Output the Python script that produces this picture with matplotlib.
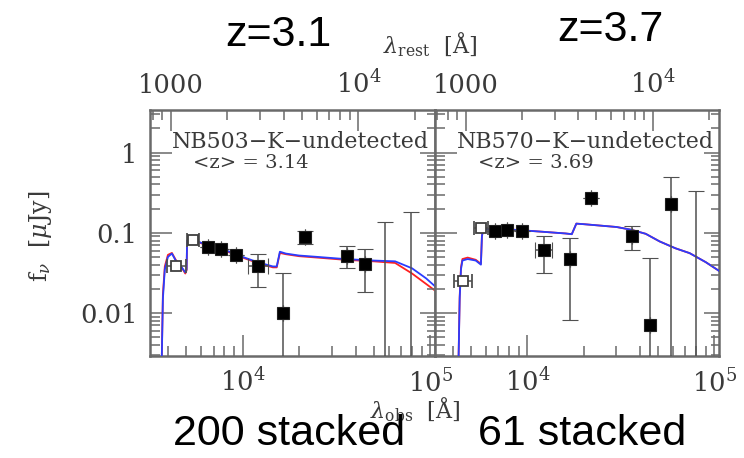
import numpy as np
import matplotlib
matplotlib.use("Agg")
import matplotlib.pyplot as plt
from matplotlib.ticker import FixedLocator, FixedFormatter, NullFormatter

# ---------------- data ----------------
z_left = 3.14
z_right = 3.69

# left panel (NB503, <z>=3.14): open squares (broad/narrow band with x-range)
L_open_wl = [4420, 5470]
L_open_f = [0.038, 0.082]
L_open_wlo = [3975, 5080]
L_open_whi = [5010, 5890]

# left panel filled squares
L_wl = [6520, 7690, 9180, 12070, 16440, 21470, 35900, 44900, 57400, 78900]
L_f = [0.0655, 0.063, 0.053, 0.038, 0.0101, 0.0874, 0.0516, 0.041, 0.001, 0.001]
L_flo = [0.0655, 0.063, 0.053, 0.0213, 0.001, 0.072, 0.0362, 0.0181, 0.001, 0.001]
L_fhi = [0.0655, 0.063, 0.053, 0.0546, 0.0319, 0.106, 0.0688, 0.063, 0.136, 0.18]
L_wlo = [6520, 7690, 9180, 10640, 16440, 21470, 35900, 44900, 57400, 78900]
L_whi = [6520, 7690, 9180, 13600, 16440, 21470, 35900, 44900, 57400, 78900]

# left panel model SEDs
L_mod_wl = [3700, 3760, 3850, 4000, 4200, 4400, 4700, 4950, 5030, 5060, 5300, 6000,
            7000, 8500, 10000, 12000, 14500, 15200, 15800, 17000, 20000, 25000,
            35000, 50000, 65000, 80000, 95000, 106000]
L_blue = [0.002, 0.015, 0.035, 0.05, 0.055, 0.045, 0.038, 0.032, 0.035, 0.08, 0.085, 0.075,
          0.068, 0.058, 0.05, 0.043, 0.038, 0.038, 0.058, 0.055, 0.052, 0.05,
          0.047, 0.045, 0.044, 0.036, 0.027, 0.0215]
L_red = [0.002, 0.017, 0.038, 0.053, 0.056, 0.046, 0.038, 0.031, 0.034, 0.079, 0.084, 0.074,
         0.067, 0.057, 0.049, 0.042, 0.037, 0.037, 0.056, 0.054, 0.051, 0.049,
         0.046, 0.044, 0.042, 0.031, 0.023, 0.019]

# right panel (NB570, <z>=3.69)
R_open_wl = [4505, 5636]
R_open_f = [0.0251, 0.1146]
R_open_wlo = [4064, 5180]
R_open_whi = [5090, 6135]

R_wl = [6690, 7820, 9400, 12250, 16980, 21880, 36150, 45200, 58500, 79400]
R_f = [0.105, 0.109, 0.105, 0.0613, 0.0473, 0.272, 0.09, 0.00708, 0.23, 0.001]
R_flo = [0.105, 0.109, 0.105, 0.0313, 0.00818, 0.272, 0.0601, 0.001, 0.001, 0.001]
R_fhi = [0.105, 0.109, 0.105, 0.0899, 0.0859, 0.272, 0.122, 0.0482, 0.49, 0.335]
R_wlo = [6690, 7820, 9400, 11030, 16980, 21880, 36150, 45200, 58500, 79400]
R_whi = [6690, 7820, 9400, 13550, 16980, 21880, 36150, 45200, 58500, 79400]

R_mod_wl = [4280, 4350, 4420, 4500, 4800, 5300, 5650, 5720, 5800, 7000, 9000, 12000,
            16000, 17300, 18300, 20000, 30000, 36000, 43000, 51000, 62000, 73800,
            90000, 107000]
R_blue = [0.002, 0.015, 0.035, 0.045, 0.047, 0.045, 0.04, 0.09, 0.11, 0.112, 0.108, 0.103,
          0.098, 0.096, 0.13, 0.128, 0.118, 0.109, 0.097, 0.078, 0.064, 0.0557,
          0.043, 0.033]
R_red = [0.002, 0.016, 0.037, 0.047, 0.049, 0.046, 0.041, 0.09, 0.11, 0.112, 0.108, 0.103,
         0.098, 0.096, 0.13, 0.128, 0.118, 0.109, 0.097, 0.078, 0.064, 0.0557,
         0.043, 0.033]

panel_names = ["NB503\u2212K\u2212undetected", "NB570\u2212K\u2212undetected"]
panel_z = ["<z> = 3.14", "<z> = 3.69"]
bottom_major = [1e4, 1e5]
bottom_labels = [r"$10^4$", r"$10^5$"]
top_major = [1000, 1e4]
top_labels = ["1000", r"$10^4$"]
y_major = [0.01, 0.1, 1]
y_labels = ["0.01", "0.1", "1"]
annotations = ["z=3.1", "z=3.7", "200 stacked", "61 stacked"]

# ---------------- style ----------------
plt.rcParams["font.family"] = ["DejaVu Serif"]
plt.rcParams["mathtext.fontset"] = "dejavuserif"
TXT = "#3a3a3a"
AXC = "#6a6a6a"
XLIM = (3210, 1.06e5)
YLIM = (0.0029, 3.4)

fig = plt.figure(figsize=(7.44, 4.58), dpi=100)
W, H = 744.0, 458.0
axL = fig.add_axes([150 / W, (H - 356) / H, 285 / W, 246 / H])
axR = fig.add_axes([435 / W, (H - 356) / H, 284 / W, 246 / H])


def minors(lo, hi):
    out = []
    for d in range(lo, hi):
        for m in range(2, 10):
            out.append(m * 10.0 ** d)
    return out


def style_panel(ax, z, show_ylabels):
    ax.set_xscale("log")
    ax.set_yscale("log")
    ax.set_xlim(*XLIM)
    ax.set_ylim(*YLIM)
    for s in ax.spines.values():
        s.set_color(AXC)
        s.set_linewidth(1.8)
    ax.xaxis.set_major_locator(FixedLocator(bottom_major))
    ax.xaxis.set_major_formatter(FixedFormatter(bottom_labels))
    ax.xaxis.set_minor_locator(FixedLocator(minors(3, 5)))
    ax.xaxis.set_minor_formatter(NullFormatter())
    ax.yaxis.set_major_locator(FixedLocator(y_major))
    ax.yaxis.set_major_formatter(FixedFormatter(y_labels if show_ylabels else ["", "", ""]))
    ax.yaxis.set_minor_locator(FixedLocator(minors(-3, 1)))
    ax.yaxis.set_minor_formatter(NullFormatter())
    ax.tick_params(which="both", direction="in", color=AXC, width=1.1,
                   labelsize=18.5, labelcolor=TXT, top=False, right=False, pad=9)
    ax.tick_params(which="major", length=15)
    ax.tick_params(which="minor", length=7)
    ax.tick_params(axis="y", which="major", length=16)
    # right-side ticks
    axr = ax.twinx()
    axr.set_yscale("log")
    axr.set_ylim(*YLIM)
    axr.yaxis.set_major_locator(FixedLocator(y_major))
    axr.yaxis.set_minor_locator(FixedLocator(minors(-3, 1)))
    axr.yaxis.set_major_formatter(NullFormatter())
    axr.yaxis.set_minor_formatter(NullFormatter())
    axr.tick_params(which="both", direction="in", color=AXC, width=1.1)
    axr.tick_params(which="major", length=11)
    axr.tick_params(which="minor", length=6)
    for s in axr.spines.values():
        s.set_visible(False)
    # top rest-frame axis
    axt = ax.twiny()
    axt.set_xscale("log")
    axt.set_xlim(XLIM[0] / (1 + z), XLIM[1] / (1 + z))
    axt.xaxis.set_major_locator(FixedLocator(top_major))
    axt.xaxis.set_major_formatter(FixedFormatter(top_labels))
    axt.xaxis.set_minor_locator(FixedLocator(minors(2, 5)))
    axt.xaxis.set_minor_formatter(NullFormatter())
    axt.tick_params(which="both", direction="in", color=AXC, width=1.1,
                    labelsize=18.5, labelcolor=TXT, pad=9)
    axt.tick_params(which="major", length=15)
    axt.tick_params(which="minor", length=7)
    for s in axt.spines.values():
        s.set_visible(False)


def draw(ax, owl, of, owlo, owhi, wl, f, flo, fhi, wlo, whi, mwl, mblue, mred):
    ax.plot(mwl, mred, color="#ff2020", lw=1.3, zorder=2)
    ax.plot(mwl, mblue, color="#2a3cff", lw=1.3, zorder=3)
    owl = np.array(owl); of = np.array(of)
    ax.errorbar(owl, of, xerr=[owl - np.array(owlo), np.array(owhi) - owl],
                fmt="s", ms=7.5, mfc="white", mec="#404040", mew=1.3,
                ecolor="#505050", elinewidth=1.1, capsize=5, capthick=1.1, zorder=4)
    wl = np.array(wl); f = np.array(f)
    ax.errorbar(wl, f, yerr=[f - np.array(flo), np.array(fhi) - f],
                xerr=[wl - np.array(wlo), np.array(whi) - wl],
                fmt="s", ms=8.5, mfc="black", mec="#202020", mew=0.8,
                ecolor="#505050", elinewidth=1.1, capsize=5.5, capthick=1.1, zorder=5)


style_panel(axL, z_left, True)
style_panel(axR, z_right, False)
draw(axL, L_open_wl, L_open_f, L_open_wlo, L_open_whi, L_wl, L_f, L_flo, L_fhi,
     L_wlo, L_whi, L_mod_wl, L_blue, L_red)
draw(axR, R_open_wl, R_open_f, R_open_wlo, R_open_whi, R_wl, R_f, R_flo, R_fhi,
     R_wlo, R_whi, R_mod_wl, R_blue, R_red)

for ax, name, zt in [(axL, panel_names[0], panel_z[0]), (axR, panel_names[1], panel_z[1])]:
    ax.text(0.078, 0.87, name, transform=ax.transAxes, fontsize=15.8, color=TXT,
            va="center", ha="left", zorder=6)
    ax.text(0.152, 0.785, zt, transform=ax.transAxes, fontsize=14, color=TXT,
            va="center", ha="left", zorder=6)

# axis labels
fig.text(40 / W, 1 - 236 / H, r"f$_\nu$  [$\mu$Jy]", rotation=90, fontsize=17,
         color=TXT, ha="center", va="center")
fig.text(430 / W, 1 - 45 / H, r"$\lambda_{\rm rest}$  [Å]", fontsize=16,
         color=TXT, ha="center", va="center")
fig.text(415 / W, 1 - 410 / H, r"$\lambda_{\rm obs}$  [Å]", fontsize=16,
         color=TXT, ha="center", va="center")

# overlaid annotations
sans = dict(family=["Liberation Sans", "DejaVu Sans"], fontsize=31, color="black",
            ha="center", va="center")
fig.text(278 / W, 1 - 35 / H, annotations[0], **sans)
fig.text(610 / W, 1 - 30 / H, annotations[1], **sans)
fig.text(289 / W, 1 - 434 / H, annotations[2], **sans)
fig.text(582 / W, 1 - 434 / H, annotations[3], **sans)

fig.savefig("out.png", dpi=100)
